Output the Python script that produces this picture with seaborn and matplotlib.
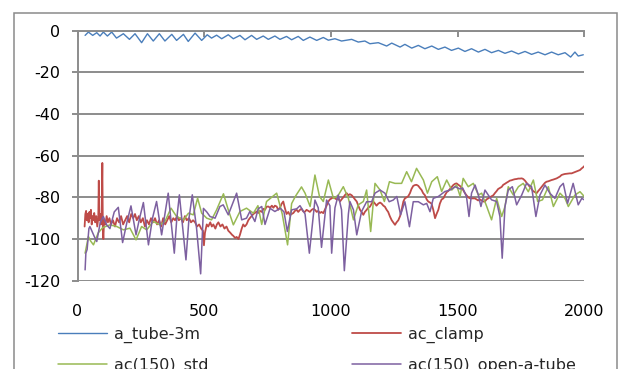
import numpy as np
import pandas as pd
import matplotlib
matplotlib.use("Agg")
import matplotlib.pyplot as plt
import seaborn as sns
from matplotlib.patches import Rectangle

# ---------------- data ----------------
series_names = ["a_tube-3m", "ac_clamp", "ac(150)_std", "ac(150)_open-a-tube"]
series_colors = ["#4A7EBB", "#BE4B48", "#98B954", "#7D60A0"]
x_ticks = [0, 500, 1000, 1500, 2000]
y_ticks = [0, -20, -40, -60, -80, -100, -120]
y_tick_labels = ["0", "-20", "-40", "-60", "-80", "-100", "-120"]

blue_x = [30, 43, 60, 76, 89, 102, 118, 135, 154, 181, 205, 227, 253, 276, 299, 323, 345,
          372, 391, 418, 437, 464, 490, 512, 529, 549, 569, 595, 615, 641, 661, 687, 707,
          733, 753, 779, 799, 825, 845, 871, 891, 917, 944, 970, 990, 1016, 1042, 1082,
          1108, 1134, 1154, 1187, 1220, 1240, 1273, 1292, 1319, 1345, 1371, 1398, 1424,
          1450, 1476, 1503, 1529, 1555, 1582, 1608, 1634, 1661, 1687, 1713, 1740, 1766,
          1792, 1818, 1845, 1871, 1897, 1924, 1946, 1963, 1976, 1996]
blue_y = [-2.3, -0.7, -2.3, -1.0, -2.6, -0.7, -2.6, -0.7, -3.6, -1.5, -4.2, -1.5, -5.8,
          -1.5, -5.0, -1.5, -5.0, -1.8, -4.7, -1.8, -5.2, -1.2, -4.7, -2.0, -3.6, -2.2,
          -3.9, -2.0, -3.9, -2.3, -4.4, -2.3, -4.2, -2.6, -4.2, -2.6, -4.2, -2.8, -4.4,
          -2.8, -4.7, -3.1, -4.7, -3.3, -4.6, -3.9, -5.0, -4.2, -5.5, -5.0, -6.3, -5.8,
          -7.4, -6.0, -7.9, -6.6, -8.4, -7.1, -8.7, -7.4, -9.0, -7.9, -9.5, -8.4, -10.0,
          -8.7, -10.3, -9.0, -10.6, -9.5, -10.9, -9.8, -11.2, -10.0, -11.4, -10.3, -11.6,
          -10.3, -11.6, -10.6, -12.7, -10.3, -12.2, -11.6]

red_x = [28, 31, 34, 37, 40, 44, 47, 50, 53, 56, 59, 62, 66, 70, 74, 78, 82, 84, 86, 89,
         92, 95, 98, 100, 102, 105, 110, 115, 120, 126, 132, 140, 148, 156, 164, 172, 180,
         188, 196, 204, 212, 220, 227, 234, 242, 250, 258, 266, 274, 282, 290, 298, 306,
         314, 322, 330, 338, 346, 354, 362, 370, 378, 385, 393, 400, 408, 416, 424, 431,
         440, 448, 456, 464, 472, 480, 488, 495, 499, 503, 510, 516, 524, 530, 536, 544,
         550, 556, 564, 572, 580, 588, 595, 603, 610, 615, 622, 628, 635, 641, 648, 654,
         660, 667, 674, 680, 687, 694, 700, 707, 714, 720, 727, 734, 740, 746, 753, 760,
         767, 773, 779, 786, 792, 799, 806, 812, 818, 825, 832, 838, 845, 852, 858, 865,
         871, 878, 884, 891, 897, 904, 911, 917, 924, 931, 937, 944, 950, 957, 963, 970,
         976, 983, 990, 996, 1003, 1010, 1016, 1023, 1029, 1036, 1042, 1049, 1055, 1062,
         1069, 1075, 1082, 1089, 1095, 1102, 1108, 1115, 1121, 1128, 1134, 1141, 1147,
         1154, 1161, 1167, 1174, 1180, 1187, 1194, 1200, 1207, 1213, 1220, 1226, 1233,
         1240, 1246, 1253, 1259, 1266, 1273, 1279, 1286, 1292, 1299, 1305, 1312, 1318,
         1325, 1332, 1338, 1345, 1351, 1358, 1364, 1371, 1378, 1384, 1391, 1397, 1404,
         1411, 1417, 1424, 1430, 1437, 1444, 1450, 1457, 1463, 1470, 1477, 1483, 1490,
         1496, 1503, 1509, 1516, 1522, 1529, 1535, 1542, 1549, 1555, 1562, 1568, 1575,
         1581, 1588, 1595, 1601, 1608, 1614, 1621, 1627, 1634, 1641, 1647, 1654, 1660,
         1667, 1674, 1680, 1687, 1693, 1700, 1706, 1713, 1720, 1726, 1733, 1739, 1746,
         1753, 1759, 1766, 1772, 1779, 1785, 1792, 1798, 1805, 1812, 1818, 1825, 1832,
         1838, 1845, 1851, 1858, 1864, 1871, 1877, 1884, 1891, 1897, 1904, 1910, 1917,
         1923, 1930, 1937, 1943, 1950, 1956, 1963, 1969, 1976, 1983, 1989, 1996, 2000]
red_y = [-94, -88, -86.5, -91, -88, -92, -87, -90, -86, -93, -89, -91, -87.5, -92, -89,
         -94, -90, -72, -91, -88, -93, -89, -63.5, -95, -100, -91, -93, -89, -92, -90, -93,
         -91, -94, -90, -92, -89, -93, -91, -89, -92, -88, -90, -88, -91, -89, -92, -90,
         -94, -91, -93, -90, -92, -90, -93, -91, -94, -90, -93, -91, -89, -92, -90, -91,
         -89, -91, -90, -92, -89, -91, -90, -92, -91, -92, -94, -93, -95, -96, -103, -97,
         -93, -94, -92, -94, -93, -95, -93, -92, -94, -93, -95, -94, -96, -97, -98, -98.5,
         -99.5, -99, -100, -98, -95, -93, -94, -93, -91, -90, -89, -88, -87.5, -86.8,
         -87.5, -86.5, -87, -85.5, -86, -84.5, -84.4, -85, -84, -85, -84, -84.4, -86, -85,
         -83, -82, -85, -88, -87, -88.5, -88, -87.5, -86.5, -86, -87, -86, -85.5, -86.8,
         -87, -86, -86.5, -87, -86, -85.5, -86, -87, -86.5, -87.5, -87, -87.6, -86, -84,
         -82, -81, -80.5, -80, -80.5, -81, -80.5, -82, -81, -80, -79, -78, -79, -78.5, -79,
         -80, -81, -82, -84, -86, -87, -88.4, -87, -86, -85, -84.5, -83, -82, -83, -84, -83,
         -82.5, -83, -84, -84.5, -86, -87, -89.2, -91, -92, -93.2, -92, -91, -89, -86, -82,
         -80.5, -80, -79.5, -78, -76, -74.5, -74.1, -74, -74.5, -75.5, -76.5, -78, -79, -81,
         -82, -82.5, -83, -86, -90, -88, -86, -83, -81, -80.5, -79, -77.5, -77, -76, -75,
         -74.1, -73.5, -73.3, -74, -74.5, -75.5, -76.5, -78, -79, -80, -80.5, -80.5, -80.5,
         -80.5, -81, -81.5, -81, -81.5, -82, -82, -81, -80.5, -80, -79.5, -79, -78, -77, -76,
         -75.5, -75, -74, -73.5, -73, -72.5, -72, -71.8, -71.5, -71.3, -71.2, -71, -71,
         -70.9, -71.2, -72, -73, -74, -75, -76, -77, -77.5, -78, -77, -76, -74.9, -74, -73,
         -72.5, -72.3, -72, -71.7, -71.5, -71.2, -70.9, -70.5, -70, -69.3, -69, -68.8,
         -68.7, -68.6, -68.5, -68.5, -68.2, -67.8, -67.5, -67.2, -66.9, -66.2, -65.5, -65]

green_x = [30, 43, 52, 63, 72, 82, 100, 128, 155, 181, 207, 231, 253, 273, 299, 325, 345,
           369, 391, 418, 438, 457, 474, 490, 510, 529, 549, 576, 595, 615, 641, 667, 694,
           712, 727, 746, 786, 808, 829, 845, 860, 884, 898, 918, 937, 955, 970, 990, 1010,
           1029, 1049, 1069, 1089, 1108, 1128, 1141, 1157, 1174, 1194, 1211, 1231, 1253,
           1279, 1299, 1318, 1338, 1365, 1381, 1398, 1420, 1437, 1457, 1477, 1496, 1510,
           1522, 1542, 1562, 1582, 1595, 1615, 1634, 1654, 1674, 1687, 1700, 1720, 1740,
           1759, 1779, 1799, 1816, 1835, 1858, 1878, 1904, 1924, 1937, 1963, 1983, 2000]
green_y = [-106.8, -98.8, -101, -102.8, -100, -97, -94.5, -93.2, -94, -95.6, -94.8, -100.4,
           -94, -95.6, -91.6, -93.2, -91.6, -85.2, -89.2, -90.8, -87.6, -88.4, -80.4, -87.6,
           -90, -90.8, -86, -78.3, -86, -93.2, -86.8, -85.2, -87.6, -84, -93, -82, -78, -88,
           -102.8, -83, -79.5, -75, -78, -84.4, -69.3, -79.6, -82, -71.7, -80.5, -79, -74.9,
           -80.5, -90.8, -83.6, -82, -76.5, -96.4, -73.3, -76.5, -82, -72.5, -73.3, -73.3,
           -67.7, -72.5, -66.1, -71.7, -78, -72.5, -70.1, -77.2, -71.7, -76.5, -74.1, -79.5,
           -70.9, -74.9, -73.3, -78.9, -78, -84.4, -90.8, -80.5, -89.2, -84.4, -74.9, -78.9,
           -74.9, -73.3, -77.3, -71.7, -82, -81.2, -74.9, -84.4, -78, -80.5, -84.4, -78.9,
           -77.3, -79.6]

purple_x = [30, 33, 38, 45, 49, 58, 67, 76, 90, 102, 115, 128, 145, 161, 178, 195, 211,
            231, 245, 260, 280, 296, 312, 332, 345, 358, 382, 392, 402, 428, 440, 453, 470,
            486, 497, 510, 523, 543, 562, 575, 595, 612, 628, 648, 667, 680, 700, 713, 727,
            740, 760, 779, 800, 815, 828, 845, 865, 878, 898, 915, 937, 950, 963, 983, 996,
            1003, 1016, 1029, 1042, 1053, 1069, 1075, 1089, 1102, 1121, 1141, 1161, 1174,
            1194, 1213, 1230, 1246, 1260, 1275, 1292, 1310, 1325, 1345, 1365, 1378, 1391,
            1404, 1424, 1450, 1470, 1490, 1510, 1520, 1535, 1545, 1555, 1569, 1582, 1592,
            1608, 1621, 1634, 1654, 1667, 1676, 1687, 1700, 1716, 1733, 1753, 1772, 1792,
            1809, 1825, 1845, 1864, 1884, 1904, 1917, 1934, 1956, 1976, 1990, 2000]
purple_y = [-114.8, -106.8, -105, -95, -94, -96.5, -99, -101.2, -92, -89.2, -93.2, -95,
            -87, -84.8, -101.7, -92, -84.1, -98, -90, -82.5, -102.8, -90, -82, -98, -88, -78,
            -106.8, -90, -78.8, -110, -90, -78.8, -95, -116.7, -85.3, -87, -89.2, -90, -84.4,
            -83.6, -88.4, -83, -78, -90.8, -90, -86.8, -91.6, -85.5, -84.4, -93, -85.3, -86.8,
            -85.2, -87, -96.4, -86, -85.5, -84, -88, -106.8, -81.3, -85, -104, -81.3, -84,
            -106.8, -85, -78.9, -86, -115.2, -88, -82, -86, -98, -86.8, -82.1, -82.1, -78,
            -76.5, -78, -82.1, -81.3, -79.6, -88.4, -82.1, -94.1, -82.1, -82.1, -83.6, -82.9,
            -86.9, -80.5, -79.6, -77.2, -76.5, -74.9, -76, -75.5, -79.6, -89.2, -78, -74.1,
            -78.9, -84.4, -76.5, -78.9, -81.2, -82, -89.2, -109.2, -84.4, -76.5, -74.9, -83.6,
            -78.9, -73.3, -74.9, -89.2, -78.9, -74.1, -78, -80.5, -74.9, -73.3, -82.9, -73.3,
            -83.6, -80.5, -81.2]

# ---------------- style ----------------
sns.set_theme(style="white")
plt.rcParams["font.family"] = ["DejaVu Sans"]
plt.rcParams["axes.unicode_minus"] = False

W, H = 623, 369
fig = plt.figure(figsize=(W / 100, H / 100), dpi=100)
fig.patch.set_facecolor("white")

ax_left, ax_right, ax_top, ax_bottom = 77.5, 584.3, 30.6, 280.7
ax = fig.add_axes([ax_left / W, 1 - ax_bottom / H, (ax_right - ax_left) / W,
                   (ax_bottom - ax_top) / H])
ax.set_facecolor("white")

grid_color = "#8C8C8C"
series_data = [(blue_x, blue_y), (red_x, red_y), (green_x, green_y), (purple_x, purple_y)]
widths = [1.0, 1.3, 1.1, 1.1]
handles = []
for name, color, (xs, ys), lw in zip(series_names, series_colors, series_data, widths):
    df = pd.DataFrame({"x": xs, "y": ys})
    sns.lineplot(data=df, x="x", y="y", color=color, linewidth=lw, estimator=None,
                 sort=False, ax=ax, label=name, legend=False)
    handles.append(ax.lines[-1])

ax.set_xlim(0, 2000)
ax.set_ylim(-120, 0)
ax.set_xticks(x_ticks)
ax.set_xticklabels([str(v) for v in x_ticks])
ax.set_yticks(y_ticks)
ax.set_yticklabels(y_tick_labels)
ax.set_xlabel("")
ax.set_ylabel("")

ax.yaxis.grid(True, color=grid_color, linewidth=1.4)
ax.xaxis.grid(False)
ax.set_axisbelow(True)

for side in ["right", "bottom"]:
    ax.spines[side].set_visible(False)
for side in ["left", "top"]:
    ax.spines[side].set_visible(True)
    ax.spines[side].set_color(grid_color)
    ax.spines[side].set_linewidth(1.4)

ax.tick_params(axis="y", direction="out", length=4.5, width=1.4, color=grid_color,
               pad=8, labelsize=11.5, labelcolor="black", left=True, right=False)
ax.tick_params(axis="x", direction="in", length=4.5, width=1.4, color=grid_color,
               bottom=False, top=True, labelbottom=True, labeltop=False, pad=17,
               labelsize=11.5, labelcolor="black")

# legend: row-major order in 2 columns
order = [0, 2, 1, 3]
fig.legend([handles[i] for i in order], [series_names[i] for i in order], ncol=2,
           loc="upper left", bbox_to_anchor=(57.6 / W, 1 - 327 / H), frameon=False,
           fontsize=11.5, handlelength=3.1, handletextpad=0.4, columnspacing=9.0,
           borderpad=0, borderaxespad=0, labelspacing=0.9)

# chart area border
fig.add_artist(Rectangle((14 / W, -0.1), (617 - 14) / W, (H - 13.3) / H + 0.1,
                         transform=fig.transFigure, fill=False, edgecolor="#8A8A8A",
                         linewidth=1.1))

fig.savefig("out.png", dpi=100, facecolor="white")
